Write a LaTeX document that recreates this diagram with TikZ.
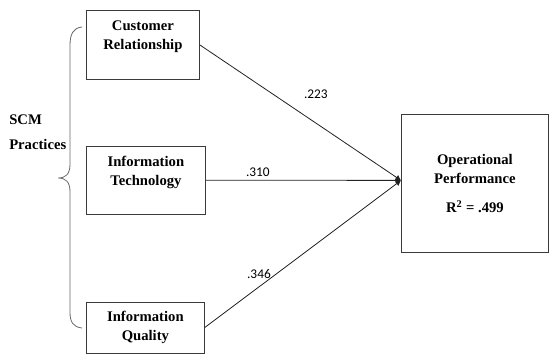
\documentclass[tikz,border=0pt]{standalone}
\usepackage{fontspec}
\setmainfont{Liberation Serif}
\newfontfamily\numfont{Carlito}
\usetikzlibrary{arrows.meta,positioning}
\definecolor{scmframe}{HTML}{3A3A3A}
\definecolor{scmbrace}{HTML}{6A6A6A}
\definecolor{scmline}{HTML}{222222}

\begin{document}
\begin{tikzpicture}[
  x=0.75pt,y=-0.75pt,
  box/.style={draw=scmframe,line width=0.6pt,align=center,inner sep=2pt,
              font=\fontsize{11}{14.25}\selectfont\bfseries},
  coef/.style={font=\numfont\fontsize{10}{12}\selectfont,inner sep=1pt},
  path/.style={draw=scmline,line width=0.6pt},
  >={Latex[length=4pt,width=4.5pt]}]
\useasboundingbox (0,0) rectangle (549,354);
% the three practices
\node[box,minimum width=84.75pt,minimum height=51.75pt,anchor=north west]
  (cr) at (86,10) {Customer\\Relationship\\\mbox{}};
\node[box,minimum width=89.25pt,minimum height=51pt,
  below=49.5pt of cr.south west,anchor=north west]
  (it) {Information\\Technology\\\mbox{}};
\node[box,minimum width=88.5pt,minimum height=38.25pt,
  below=65.25pt of it.south west,anchor=north west]
  (iq) {Information\\Quality};
% outcome
\node[box,minimum width=110.25pt,minimum height=103.5pt,anchor=north west]
  (op) at (401,114) {Operational\\Performance\\[8pt]R\textsuperscript{2} = .499};
\coordinate (tip) at ([yshift=2.25pt]op.west);
% group label and brace
\node[font=\fontsize{11}{14.25}\selectfont\bfseries,align=left,inner sep=0pt,
  anchor=west] (scm) at (9,132) {SCM\\[4.5pt]Practices};
\draw[scmbrace,line width=0.6pt]
  (82,27) .. controls (73,28) and (70,34) .. (70,46) -- (70,164)
  .. controls (70,174) and (66,178) .. (58,178)
  .. controls (66,178) and (70,182) .. (70,192) -- (70,312)
  .. controls (70,322) and (73,327) .. (82,328);
% paths
\draw[path,->] (cr.east) -- node[coef,above=17pt,pos=0.577]{.223} (tip);
\draw[path,->] (it.east) -- node[coef,above=1.5pt,pos=0.267]{.310} (tip);
\draw[path,->] (iq.east) -- node[coef,above=5pt,pos=0.276]{.346} (tip);
\end{tikzpicture}
\end{document}
